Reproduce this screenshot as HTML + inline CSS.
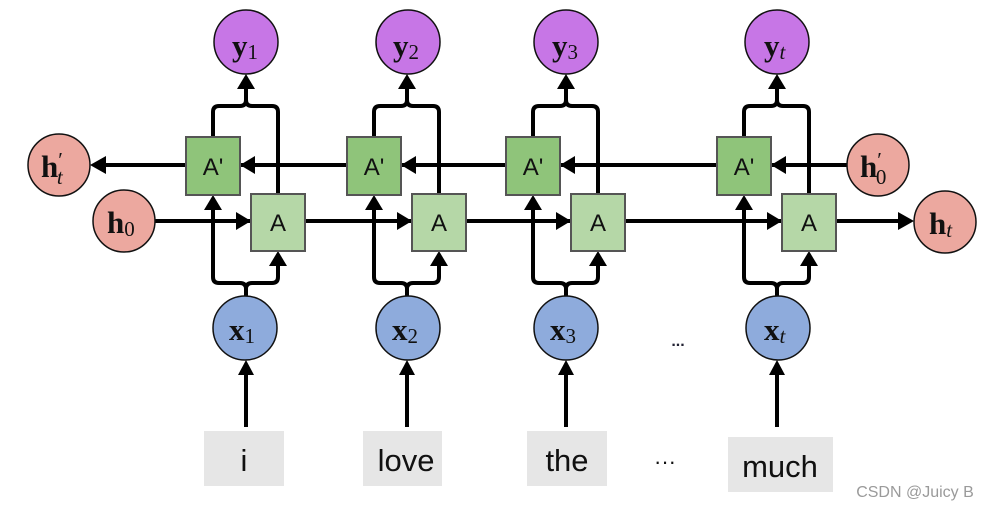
<!DOCTYPE html>
<html><head><meta charset="utf-8"><style>
html,body{margin:0;padding:0;background:#fff;width:996px;height:510px;overflow:hidden}
svg{display:block}
.m{font-family:"Liberation Serif",serif;font-weight:bold;font-size:31px;fill:#111}
.s{font-family:"Liberation Serif",serif;font-weight:normal;font-size:21px}
.it{font-style:italic}
.box{font-family:"Liberation Sans",sans-serif;font-size:24px;fill:#111}
.w{font-family:"Liberation Sans",sans-serif;font-size:31px;fill:#111}
</style></head><body>
<svg width="996" height="510" viewBox="0 0 996 510" xmlns="http://www.w3.org/2000/svg">
<defs>
<g id="col">
  <path d="M -33 137 V 112 Q -33 106 -27 106 H -6 Q 0 106 0 100 V 86 M 32 194 V 112 Q 32 106 26 106 H 6 Q 0 106 0 100" fill="none" stroke="#000" stroke-width="4"/>
  <polygon points="0,74 -9,89 9,89" fill="#000"/>
  <path d="M 0 297 V 289 Q 0 283 -6 283 H -27 Q -33 283 -33 277 V 206 M 0 289 Q 0 283 6 283 H 26 Q 32 283 32 277 V 263" fill="none" stroke="#000" stroke-width="4"/>
  <polygon points="-33,195 -42,210 -24,210" fill="#000"/>
  <polygon points="32,251 23,266 41,266" fill="#000"/>
  <path d="M 0 427 V 372" stroke="#000" stroke-width="4"/>
  <polygon points="0,360 -8,375 8,375" fill="#000"/>
</g>
<g id="boxes">
  <rect x="-60" y="137" width="54" height="58" fill="#8fc47a" stroke="#555" stroke-width="2"/>
  <rect x="5" y="194" width="54" height="57" fill="#b5d7a7" stroke="#555" stroke-width="2"/>
</g>
</defs>

<!-- horizontal lines -->
<line x1="847" y1="165" x2="100" y2="165" stroke="#000" stroke-width="4"/>
<line x1="155" y1="221" x2="902" y2="221" stroke="#000" stroke-width="4"/>
<polygon points="90,165 106,156 106,174" fill="#000"/>
<polygon points="914,221 898,212 898,230" fill="#000"/>

<use href="#col" x="246"/><use href="#col" x="407"/><use href="#col" x="566"/><use href="#col" x="777"/>

<!-- arrows into A' (pointing left) -->
<polygon points="240,165 255,156 255,174" fill="#000"/>
<polygon points="401,165 416,156 416,174" fill="#000"/>
<polygon points="560,165 575,156 575,174" fill="#000"/>
<polygon points="771,165 786,156 786,174" fill="#000"/>
<!-- arrows into A (pointing right) -->
<polygon points="251,221 236,212 236,230" fill="#000"/>
<polygon points="412,221 397,212 397,230" fill="#000"/>
<polygon points="571,221 556,212 556,230" fill="#000"/>
<polygon points="782,221 767,212 767,230" fill="#000"/>

<use href="#boxes" x="246"/><use href="#boxes" x="407"/><use href="#boxes" x="566"/><use href="#boxes" x="777"/>

<g class="box" text-anchor="middle">
<text x="213" y="175">A'</text><text x="278" y="231">A</text>
<text x="374" y="175">A'</text><text x="439" y="231">A</text>
<text x="533" y="175">A'</text><text x="598" y="231">A</text>
<text x="744" y="175">A'</text><text x="809" y="231">A</text>
</g>

<!-- circles -->
<g stroke="#111" stroke-width="1.5">
<circle cx="246" cy="42" r="32" fill="#c776e6"/>
<circle cx="408" cy="42" r="32" fill="#c776e6"/>
<circle cx="566" cy="42" r="32" fill="#c776e6"/>
<circle cx="777" cy="42" r="32" fill="#c776e6"/>
<circle cx="59" cy="165" r="31" fill="#eca89f"/>
<circle cx="124" cy="221" r="31" fill="#eca89f"/>
<circle cx="878" cy="165" r="31" fill="#eca89f"/>
<circle cx="945" cy="222" r="31" fill="#eca89f"/>
<circle cx="245" cy="328" r="32" fill="#8eabdc"/>
<circle cx="408" cy="328" r="32" fill="#8eabdc"/>
<circle cx="566" cy="328" r="32" fill="#8eabdc"/>
<circle cx="778" cy="328" r="32" fill="#8eabdc"/>
</g>

<g class="m">
<text x="232" y="56">y<tspan class="s" dy="3">1</tspan></text>
<text x="393" y="56">y<tspan class="s" dy="3">2</tspan></text>
<text x="552" y="56">y<tspan class="s" dy="3">3</tspan></text>
<text x="764" y="56">y<tspan class="s it" dy="3">t</tspan></text>
<text x="41" y="177">h<tspan class="s" dy="-10">′</tspan><tspan class="s it" dx="-6" dy="17">t</tspan></text>
<text x="107" y="233">h<tspan class="s" dy="3">0</tspan></text>
<text x="860" y="177">h<tspan class="s" dy="-10">′</tspan><tspan class="s" dx="-6" dy="17">0</tspan></text>
<text x="929" y="234">h<tspan class="s it" dy="3">t</tspan></text>
<text x="229" y="340">x<tspan class="s" dy="3">1</tspan></text>
<text x="392" y="340">x<tspan class="s" dy="3">2</tspan></text>
<text x="550" y="340">x<tspan class="s" dy="3">3</tspan></text>
<text x="764" y="340">x<tspan class="s it" dy="3">t</tspan></text>
</g>

<text x="678" y="346" text-anchor="middle" font-family="Liberation Sans,sans-serif" font-size="16" font-weight="bold" fill="#223">...</text>

<!-- word boxes -->
<rect x="204" y="431" width="80" height="55" fill="#e6e6e6"/>
<rect x="363" y="431" width="79" height="55" fill="#e6e6e6"/>
<rect x="527" y="431" width="80" height="55" fill="#e6e6e6"/>
<rect x="728" y="437" width="105" height="55" fill="#e6e6e6"/>
<g class="w" text-anchor="middle">
<text x="244" y="471">i</text>
<text x="406" y="471">love</text>
<text x="567" y="471">the</text>
<text x="780" y="477">much</text>
<text x="665" y="469" font-size="22">···</text>
</g>
<text x="915" y="497" text-anchor="middle" font-family="Liberation Sans,sans-serif" font-size="16" fill="#9a9a9a">CSDN @Juicy B</text>
</svg>
</body></html>
